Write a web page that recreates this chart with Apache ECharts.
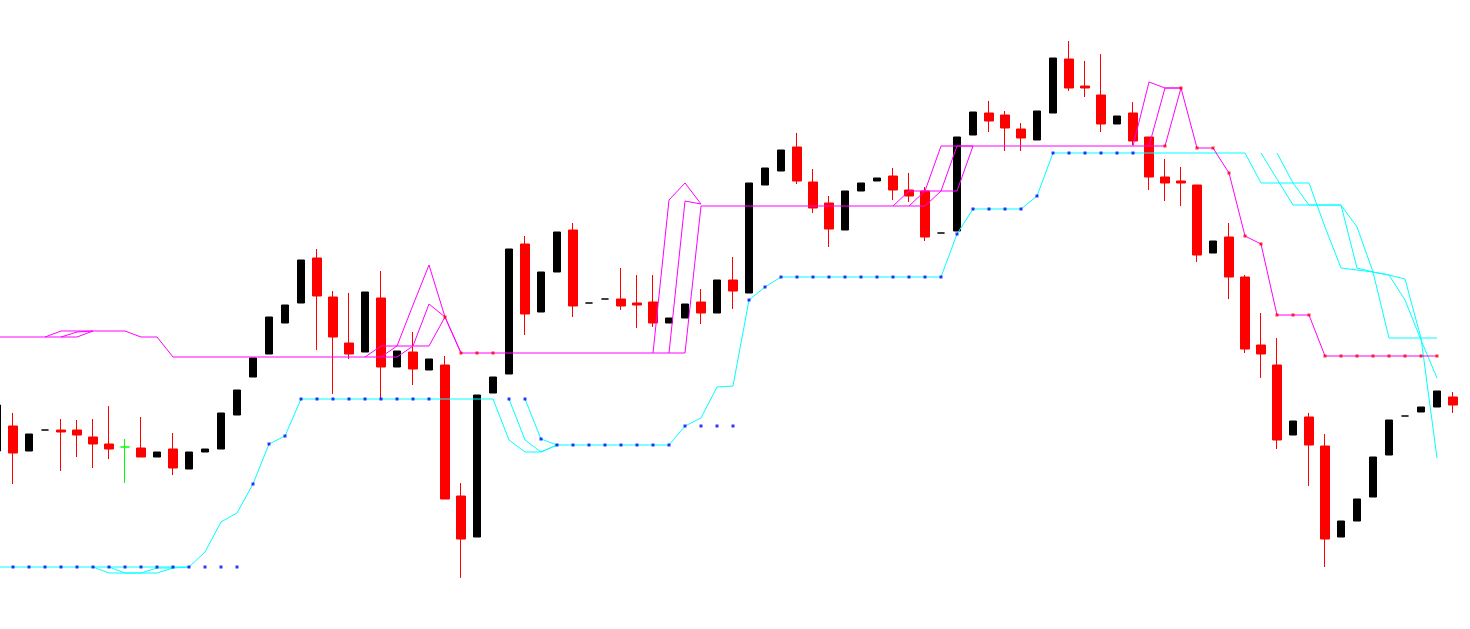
<!DOCTYPE html>
<html>
<head>
<meta charset="utf-8">
<script src="https://cdn.jsdelivr.net/npm/echarts@6/dist/echarts.min.js"></script>
<style>
html,body{margin:0;padding:0;background:#fff;}
#c{width:1470px;height:629px;}
</style>
</head>
<body>
<div id="c"></div>
<script>
// Bars (index 0 is the partial bar at the left edge)
const categories = Array.from({length: 92}, (_, i) => 'B' + i);

const opens = [178,203,178,199,199,199,192,185,182,181,172,180,160,177,180,214,252,275,306,326,
371,332,286,277,331,262,277,259,264,133,92,236,255,385,317,357,399,326,330,330,
326,327,306,311,327,316,349,336,444,458,482,447,426,399,438,448,453,439,438,396,
398,494,516,514,500,489,516,570,543,534,505,516,492,452,448,444,376,392,352,284,
264,194,212,183,92,108,132,174,213,217,222,232];
const closes = [224,176,195,199,197,194,185,180,182,172,177,161,177,180,216,239,271,312,324,369,
333,292,275,337,262,278,260,270,130,90,234,252,380,315,357,397,323,326,330,323,
324,306,311,325,316,349,338,446,461,479,448,421,400,438,446,451,439,433,392,396,
492,517,508,501,491,518,571,541,541,505,513,488,452,446,446,374,388,352,280,275,
189,208,184,90,108,130,172,209,213,222,238,224];
const lows = [178,145,178,199,158,172,161,170,146,172,172,154,160,177,180,214,252,275,306,326,
279,235,270,277,231,262,244,259,130,51,92,236,255,294,317,357,312,326,330,319,
301,302,306,311,305,316,320,336,444,458,445,416,382,399,438,448,429,427,388,396,
398,494,497,478,478,489,516,538,532,497,505,484,439,428,423,367,376,330,276,251,
180,194,143,62,92,108,132,174,213,217,222,216];
const highs = [224,216,195,199,210,209,210,223,190,212,177,196,177,180,216,239,271,312,324,369,
380,338,336,337,358,278,297,270,273,146,234,252,380,393,357,397,406,326,330,361,
354,354,311,325,340,349,372,446,461,479,496,460,433,438,446,451,461,456,442,396,
492,517,528,518,506,518,571,588,568,575,513,527,492,470,462,444,388,406,354,316,
291,208,216,195,108,130,172,209,213,222,238,237];
const greenBars = [8];

// Indicator lines (one value per bar, null where a line is absent)
const N = null;
const magentaMain = [292,292,292,292,292,292,298,298,298,292,
292,272,272,272,272,272,272,272,272,272,
272,272,272,272,272,272,283,283,312,276,
276,276,276,276,276,276,276,276,276,276,
276,276,276,276,423,423,423,423,423,423,
423,423,423,423,423,423,423,423,423,438,
438,483,483,483,483,483,483,483,483,483,
483,483,483,483,541,481,481,456,393,385,
314,314,314,273,273,273,273,273,273,273,273];
const magentaLead2 = [N,N,N,292,298,298,298,N,N,N,
N,N,N,N,N,N,N,N,N,N,
N,N,N,272,283,283,324,364,312,276,
N,N,N,N,N,N,N,N,N,N,
N,276,429,446,425,N,N,N,N,N,
N,N,N,N,N,N,423,438,438,483,
483,483,N,N,N,N,N,N,N,N,
N,483,547,541,541,N,N,N,N,N,
N,N,N,N,N,N,N,N,N,N,N];
const magentaLead1 = [N,N,N,N,292,297,298,N,N,N,
N,N,N,N,N,N,N,N,N,N,
N,N,N,N,272,283,283,325,312,N,
N,N,N,N,N,N,N,N,N,N,
N,N,276,428,425,N,N,N,N,N,
N,N,N,N,N,N,N,423,438,438,
483,483,N,N,N,N,N,N,N,N,
N,N,483,541,541,N,N,N,N,N,
N,N,N,N,N,N,N,N,N,N,N];
const redDots = [N,N,N,N,N,N,N,N,N,N,
N,N,N,N,N,N,N,N,N,N,
N,N,N,N,N,N,N,N,312,276,
276,276,N,N,N,N,N,N,N,N,
N,N,N,N,N,N,N,N,N,N,
N,N,N,N,N,N,N,N,N,N,
N,N,N,N,N,N,N,N,N,N,
N,N,N,483,541,481,481,456,393,385,
314,314,314,273,273,273,273,273,273,273,273];

const cyanMain = [62,62,62,62,62,62,62,62,62,62,
62,62,62,77,107,116,145,185,193,230,
230,230,230,230,230,230,230,230,230,230,
230,230,189,177,177,184,184,184,184,184,
184,184,184,203,211,242,243,329,342,352,
352,352,352,352,352,352,352,352,352,352,
395,420,420,420,420,433,476,476,476,476,
476,476,476,476,476,476,476,476,476,446,
446,446,446,402,361,359,357,291,291,291,291];
const cyanLag1 = [N,N,N,N,N,N,62,56,56,56,
61,61,62,N,N,N,N,N,N,N,
N,N,N,N,N,N,N,N,N,N,
N,N,230,189,177,184,N,N,N,N,
N,N,N,N,N,N,N,N,N,N,
N,N,N,N,N,N,N,N,N,N,
N,N,N,N,N,N,N,N,N,N,
N,N,N,N,N,N,N,N,N,476,
450,424,424,424,424,361,357,354,329,289,251];
const cyanLag2 = [N,N,N,N,N,N,N,62,56,56,
56,61,N,N,N,N,N,N,N,N,
N,N,N,N,N,N,N,N,N,N,
N,N,N,230,190,184,N,N,N,N,
N,N,N,N,N,N,N,N,N,N,
N,N,N,N,N,N,N,N,N,N,
N,N,N,N,N,N,N,N,N,N,
N,N,N,N,N,N,N,N,N,N,
476,446,424,424,424,402,357,354,350,291,171];
const blueDots = [N,62,62,62,62,62,62,62,62,62,
62,62,62,62,62,62,145,185,193,230,
230,230,230,230,230,230,230,230,N,N,
N,N,230,230,190,184,184,184,184,184,
184,184,184,203,203,203,203,329,342,352,
352,352,352,352,352,352,352,352,352,352,
395,420,420,420,420,433,476,476,476,476,
476,476,N,N,N,N,N,N,N,N,
N,N,N,N,N,N,N,N,N,N,N];

// Build candle data
const EMPTY = ['-','-','-','-'];
const bullData = [], bearData = [];
for (let i = 0; i < categories.length; i++) {
  const v = [opens[i], closes[i], lows[i], highs[i]];
  const green = greenBars.indexOf(i) >= 0;
  if (green) {
    bullData.push(EMPTY);
    bearData.push({value: v, itemStyle: {color: '#00ff00', color0: '#00ff00', borderColor: '#00ff00', borderColor0: '#00ff00', borderColorDoji: '#00ff00'}});
  } else if (closes[i] >= opens[i]) {
    bullData.push(v); bearData.push(EMPTY);
  } else {
    bearData.push(v); bullData.push(EMPTY);
  }
}

function lineSeries(data, color) {
  return {type: 'line', data: data, showSymbol: false, connectNulls: false, silent: true,
    lineStyle: {color: color, width: 1}, z: 5, animation: false};
}
function dotSeries(data, color) {
  return {type: 'scatter', data: data, symbol: 'rect', symbolSize: 3, silent: true,
    itemStyle: {color: color}, z: 6, animation: false};
}

const chart = echarts.init(document.getElementById('c'), null, {renderer: 'canvas'});
chart.setOption({
  animation: false,
  backgroundColor: '#ffffff',
  grid: {left: -11, right: 9, top: 0, bottom: 0, outerBoundsMode: 'none', containLabel: false},
  xAxis: {type: 'category', data: categories, boundaryGap: true, show: false},
  yAxis: {type: 'value', min: 0, max: 629, show: false},
  series: [
    {type: 'candlestick', data: bullData, barWidth: 8, silent: true, z: 3,
      itemStyle: {color: '#000000', color0: '#000000', borderColor: '#000000', borderColor0: '#000000', borderColorDoji: '#000000', borderWidth: 1}},
    {type: 'candlestick', data: bearData, barWidth: 10, silent: true, z: 3,
      itemStyle: {color: '#ff0000', color0: '#ff0000', borderColor: '#ff0000', borderColor0: '#ff0000', borderColorDoji: '#ff0000', borderWidth: 1}},
    lineSeries(cyanMain, '#00ffff'),
    lineSeries(cyanLag1, '#00ffff'),
    lineSeries(cyanLag2, '#00ffff'),
    lineSeries(magentaMain, '#ff00ff'),
    lineSeries(magentaLead1, '#ff00ff'),
    lineSeries(magentaLead2, '#ff00ff'),
    dotSeries(blueDots, '#0000ff'),
    dotSeries(redDots, '#ff0000')
  ]
});
</script>
</body>
</html>
